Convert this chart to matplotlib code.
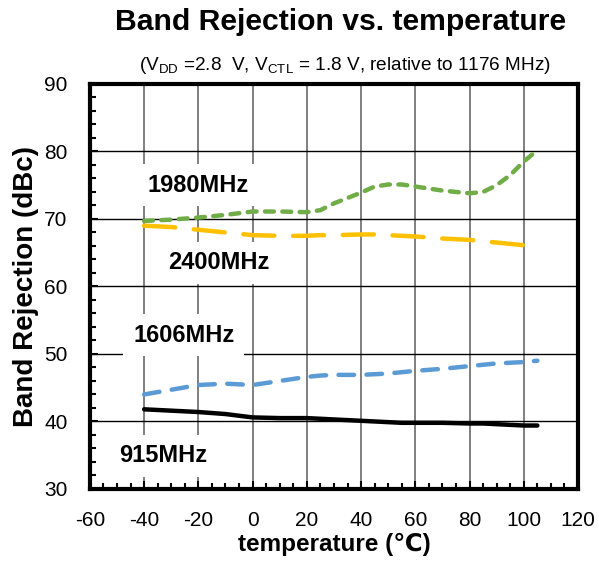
import numpy as np
import matplotlib.pyplot as plt
from matplotlib.ticker import MultipleLocator

plt.rcParams['font.family'] = ['Liberation Sans', 'DejaVu Sans']
plt.rcParams['axes.unicode_minus'] = False

# temperaturas (°C) y rechazo de banda (dBc)
temp = [-40, -30, -20, -10, 0, 10, 20, 25, 30, 40, 45, 50, 55, 60, 70, 80, 85, 90, 95, 100, 105]
r915 = [41.8, 41.6, 41.4, 41.1, 40.6, 40.5, 40.5, 40.4, 40.3, 40.1, 40.0, 39.9, 39.8, 39.8,
        39.8, 39.7, 39.7, 39.6, 39.5, 39.4, 39.4]
r1606 = [44.0, 44.7, 45.4, 45.6, 45.4, 46.0, 46.6, 46.8, 46.9, 46.9, 47.0, 47.1, 47.3, 47.5,
         47.8, 48.2, 48.4, 48.6, 48.7, 48.8, 49.0]
r1980 = [69.7, 69.9, 70.2, 70.6, 71.1, 71.1, 71.0, 71.3, 72.3, 73.9, 74.8, 75.1, 75.1, 74.8,
         74.2, 73.8, 74.0, 75.0, 76.5, 78.5, 80.2]
r2400 = [69.0, 68.8, 68.4, 68.0, 67.6, 67.5, 67.5, 67.6, 67.6, 67.7, 67.7, 67.6, 67.5, 67.4,
         67.1, 66.9, 66.7, 66.5, 66.3, 66.1, 65.8]

etiquetas = ["915MHz", "1606MHz", "1980MHz", "2400MHz"]

fig = plt.figure(figsize=(5.99, 5.67), dpi=100)
ax = fig.add_axes([0.150, 0.1376, 0.815, 0.7144])

ax.plot(temp, r915, color="black", lw=3.2, solid_capstyle="round")
ax.plot(temp, r1606, color="#5B9BD5", lw=3.2, dashes=(3.5, 2.8), dash_capstyle="round")
ax.plot(temp, r1980, color="#70AD47", lw=3.2, dashes=(2.0, 1.9), dash_capstyle="round")
ax.plot(temp, r2400, color="#FFC000", lw=3.2, dashes=(7.0, 4.2), dash_capstyle="round")

ax.set_xlim(-60, 120)
ax.set_ylim(30, 90)
ax.xaxis.set_major_locator(MultipleLocator(20))
ax.xaxis.set_minor_locator(MultipleLocator(5))
ax.yaxis.set_major_locator(MultipleLocator(10))
ax.yaxis.set_minor_locator(MultipleLocator(2))
ax.tick_params(which="both", direction="in", labelsize=15, width=1.5)
ax.tick_params(which="major", length=6, pad=16)
ax.tick_params(which="minor", length=4)
ax.tick_params(top=False, right=False)

ax.grid(axis="x", which="major", color="#6a6a6a", lw=1.2)
ax.grid(axis="y", which="major", color="black", lw=1.0)
ax.set_axisbelow(True)
for s in ax.spines.values():
    s.set_linewidth(3)

# etiquetas de cada curva con fondo blanco
caja = dict(facecolor="white", edgecolor="none", pad=7)
ax.text(-19.9, 75.0, etiquetas[2], fontsize=17, fontweight="bold", ha="center", va="center", bbox=caja, zorder=3)
ax.text(-12.6, 63.5, etiquetas[3], fontsize=17, fontweight="bold", ha="center", va="center", bbox=caja, zorder=3)
ax.text(-25.4, 52.8, etiquetas[1], fontsize=17, fontweight="bold", ha="center", va="center", bbox=caja, zorder=3)
ax.text(-33.1, 34.9, etiquetas[0], fontsize=17, fontweight="bold", ha="center", va="center", bbox=caja, zorder=3)

ax.set_xlabel("temperature (℃)", fontsize=17.5, fontweight="bold", labelpad=2)
ax.set_ylabel("Band Rejection (dBc)", fontsize=20, fontweight="bold", labelpad=4)

fig.text(0.568, 0.961, "Band Rejection vs. temperature", fontsize=21.7, fontweight="bold",
         ha="center", va="center")
fig.text(0.576, 0.884, r"(V$_{\mathregular{DD}}$ =2.8  V, V$_{\mathregular{CTL}}$ = 1.8 V, relative to 1176 MHz)",
         fontsize=13.7, ha="center", va="center")

fig.savefig("out.png", dpi=100)
